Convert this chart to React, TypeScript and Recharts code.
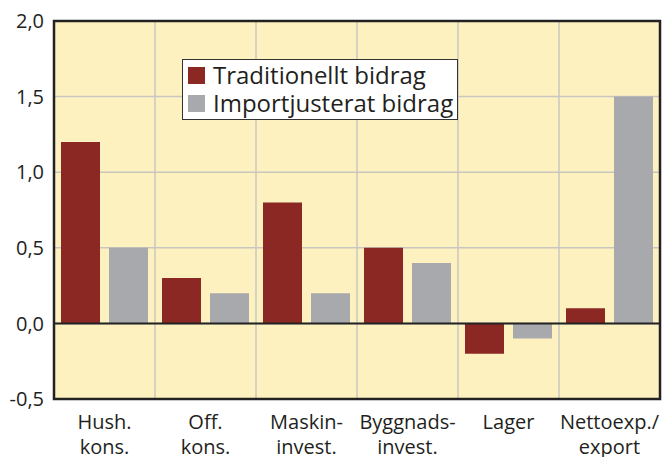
import { BarChart, Bar, XAxis, YAxis, CartesianGrid, ReferenceLine, ReferenceArea } from "recharts";

const CATEGORIES = ["Hush.|kons.", "Off.|kons.", "Maskin-|invest.", "Byggnads-|invest.", "Lager", "Nettoexp./|export"];
const TRADITIONELLT = [1.2, 0.3, 0.8, 0.5, -0.2, 0.1];
const IMPORTJUSTERAT = [0.5, 0.2, 0.2, 0.4, -0.1, 1.5];
const Y_TICKS = [-0.5, 0, 0.5, 1, 1.5, 2];
const LEGEND = [
  { label: "Traditionellt bidrag", color: "#8b2824" },
  { label: "Importjusterat bidrag", color: "#a8a9ac" },
];

const RED = "#8b2824";
const GREY = "#a8a9ac";
const TEXT = "#231f20";
const FONT = "'Open Sans', sans-serif";

const data = CATEGORIES.map((c, i) => ({
  name: c,
  trad: TRADITIONELLT[i],
  imp: IMPORTJUSTERAT[i],
}));

const XTick = ({ x, y, payload }: any) => {
  const lines = String(payload.value).split("|");
  return (
    <text x={x} y={y} textAnchor="middle" fill={TEXT} fontSize={20} fontFamily={FONT}>
      {lines.map((l, i) => (
        <tspan key={i} x={x} dy={i === 0 ? 22 : 25}>
          {l}
        </tspan>
      ))}
    </text>
  );
};

export default function App() {
  return (
    <div style={{ position: "absolute", left: 0, top: 0, width: 664, height: 457, background: "#fff" }}>
      <BarChart
        width={664}
        height={457}
        data={data}
        margin={{ top: 21, right: 4, left: 0, bottom: 0 }}
        barCategoryGap={7}
        barGap={9}
      >
        <CartesianGrid
          fill="#fef1c0"
          stroke="#c8c6c0"
          strokeWidth={1.5}
          verticalCoordinatesGenerator={({ offset }: any) =>
            CATEGORIES.slice(1).map((_, i) => offset.left + ((i + 1) * offset.width) / CATEGORIES.length)
          }
        />
        <XAxis
          dataKey="name"
          height={58}
          tickLine={false}
          axisLine={false}
          interval={0}
          tick={<XTick />}
        />
        <YAxis
          width={54}
          domain={[-0.5, 2]}
          ticks={Y_TICKS}
          tickFormatter={(v: number) => v.toFixed(1).replace(".", ",")}
          tickLine={false}
          axisLine={false}
          tickSize={0}
          tickMargin={10}
          tick={{ fill: TEXT, fontSize: 20, fontFamily: FONT }}
        />
        <Bar dataKey="trad" fill={RED} isAnimationActive={false} />
        <Bar dataKey="imp" fill={GREY} isAnimationActive={false} />
        <ReferenceLine y={0} stroke="#222" strokeWidth={2} />
        <ReferenceArea y1={-0.5} y2={2} fill="none" stroke="#222" strokeWidth={2.5} />
      </BarChart>
      <div
        style={{
          position: "absolute",
          left: 182,
          top: 59,
          width: 276,
          height: 61,
          boxSizing: "border-box",
          background: "#fff",
          border: "1.5px solid #333",
          padding: "1px 0 0 5px",
          fontFamily: FONT,
          fontSize: 24,
          color: TEXT,
          lineHeight: "28px",
          whiteSpace: "nowrap",
        }}
      >
        {LEGEND.map((it) => (
          <div key={it.label} style={{ display: "flex", alignItems: "center" }}>
            <span style={{ width: 17, height: 17, background: it.color, marginRight: 8, flexShrink: 0 }} />
            {it.label}
          </div>
        ))}
      </div>
    </div>
  );
}
